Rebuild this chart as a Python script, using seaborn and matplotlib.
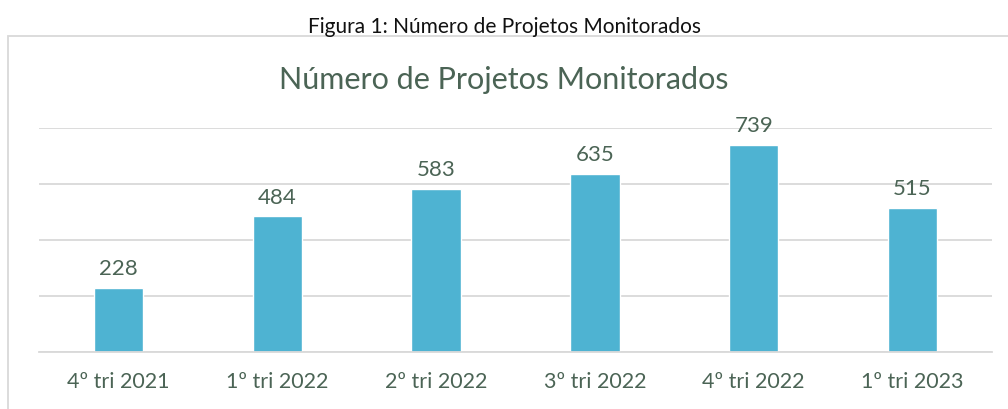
import matplotlib
matplotlib.use("Agg")
import matplotlib.pyplot as plt
from matplotlib.patches import Rectangle
from matplotlib.ticker import FixedLocator
import seaborn as sns
import pandas as pd

# ── data ─────────────────────────────────────────────
trimestres = ["4º tri 2021", "1º tri 2022", "2º tri 2022",
              "3º tri 2022", "4º tri 2022", "1º tri 2023"]
projetos = [228, 484, 583, 635, 739, 515]

df = pd.DataFrame({"trimestre": trimestres, "projetos": projetos})

sns.set_style("white")
plt.rcParams["font.family"] = ["Lato", "DejaVu Sans"]

txt_color = "#4B6455"
grid_color = "#D9D9D9"
bar_color = "#4EB3D2"

fig = plt.figure(figsize=(10.08, 4.10), dpi=100)

# caption above chart box
fig.text(0.5, 1 - 27 / 410, "Figura 1: Número de Projetos Monitorados",
         ha="center", va="center", fontsize=15, color="#111111")

# chart box border
fig.patches.append(Rectangle((8 / 1008, -0.2), 1.5, 1 - 37 / 410 + 0.2,
                             transform=fig.transFigure, fill=False,
                             edgecolor=grid_color, linewidth=1.3))

fig.text(0.5, 1 - 80 / 410, "Número de Projetos Monitorados",
         ha="center", va="center", fontsize=22, color=txt_color)

ax = fig.add_axes([39 / 1008, 1 - 353 / 410, (992 - 39) / 1008, (353 - 129) / 410])
sns.barplot(data=df, x="trimestre", y="projetos", color=bar_color,
            width=0.31, saturation=1, ax=ax)

ax.set_ylim(0, 800)
ax.set_xlim(-0.5, len(trimestres) - 0.5)
ax.set_yticks([0, 200, 400, 600, 800])
ax.set_yticklabels([])
ax.yaxis.grid(True, color=grid_color, linewidth=1.3)
ax.set_axisbelow(True)
ax.set_xlabel("")
ax.set_ylabel("")

for s in ["left", "right", "top"]:
    ax.spines[s].set_visible(False)
ax.spines["bottom"].set_color(grid_color)
ax.spines["bottom"].set_linewidth(1.3)

ax.tick_params(axis="y", length=0)
ax.tick_params(axis="x", which="major", length=0, pad=14,
               labelsize=15.5, labelcolor=txt_color)
ax.xaxis.set_minor_locator(FixedLocator([i - 0.5 for i in range(len(trimestres) + 1)]))
ax.tick_params(axis="x", which="minor", length=6, width=1.3, color=grid_color)

ax.bar_label(ax.containers[0], padding=7, fontsize=16, color=txt_color)

fig.savefig("out.png", dpi=100)
